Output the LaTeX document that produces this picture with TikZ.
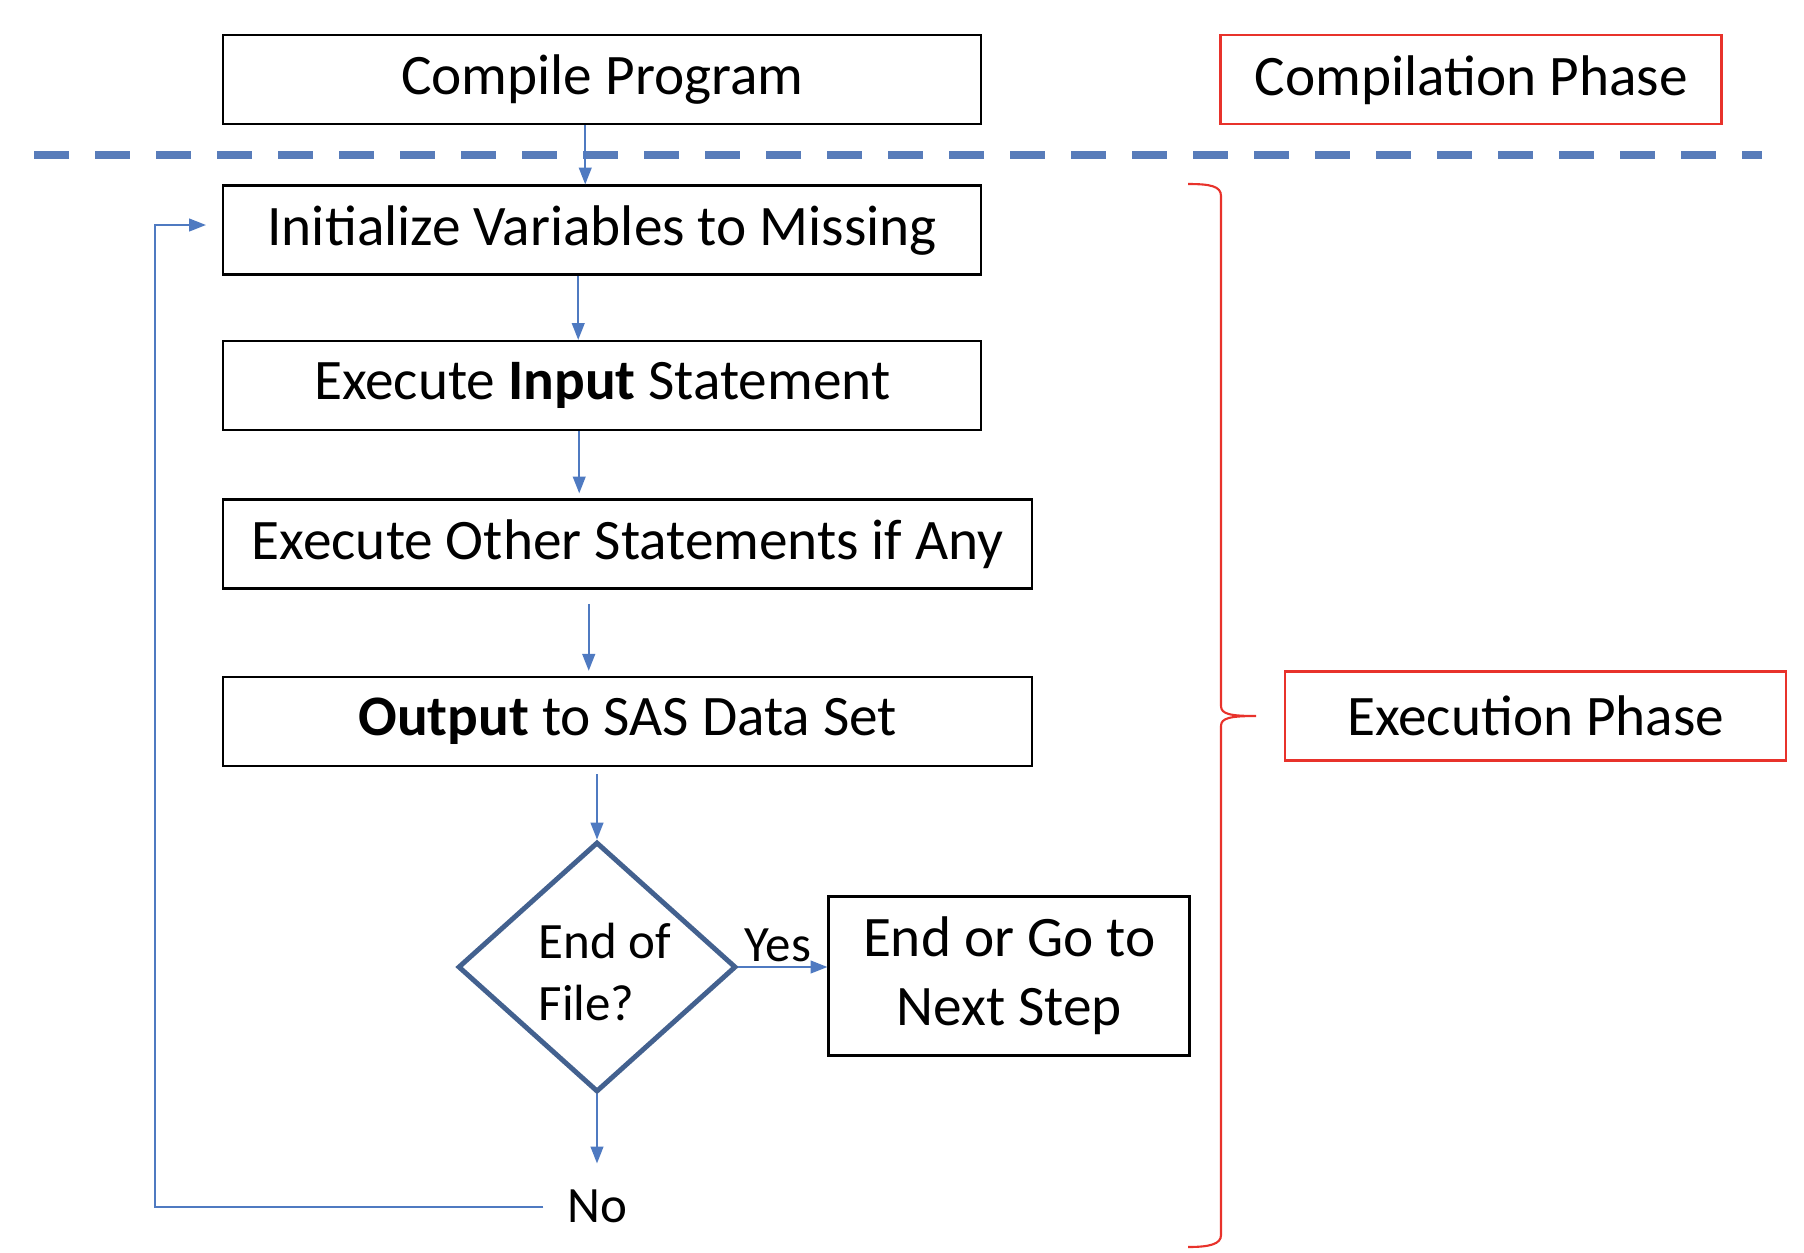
\documentclass[tikz,border=0pt]{standalone}
\usepackage{fontspec}
\setmainfont{Carlito}
\usepackage{tikz}
\usetikzlibrary{shapes.geometric, arrows.meta, calc, positioning}
\definecolor{linkblue}{RGB}{79,122,193}
\definecolor{sepblue}{RGB}{88,124,186}
\definecolor{diamblue}{RGB}{67,97,143}
\definecolor{phasered}{RGB}{232,50,43}
\tikzstyle{block} = [rectangle, line width=0.7pt, minimum width=7.58cm, minimum height=0.89cm, inner sep=0pt, text centered, draw=black]
\tikzstyle{phase} = [rectangle, line width=0.7pt, minimum width=5.01cm, minimum height=0.89cm, inner sep=0pt, text centered, draw=phasered]
\tikzstyle{decision} = [diamond, line width=1.4pt, minimum width=2.78cm, minimum height=2.50cm, inner sep=0pt, draw=diamblue]
\tikzstyle{txt} = [inner sep=0pt, font=\fontsize{14.5}{17.6}\selectfont]
\tikzstyle{arrow} = [line width=0.6pt, linkblue, -{Triangle[width=3.6pt,length=4.8pt]}]
\tikzstyle{sepline} = [line width=2.1pt, sepblue, dash pattern=on 0.35cm off 0.26cm]
\tikzstyle{bracket} = [line width=0.6pt, phasered]

\begin{document}
\begin{tikzpicture}[node distance = 10mm, font=\fontsize{16.3}{19.6}\selectfont]
	\useasboundingbox (0,0) rectangle (18.04,-12.52);
	\node (Compile) [block, anchor=north west] at (2.22,-0.34) {Compile Program};
	\node (CompPhase) [phase, right = 2.37 of Compile] {Compilation Phase};
	\node (Init) [block, below = 0.59 of Compile.south west, anchor=north west] {Initialize Variables to Missing};
	\node (Input) [block, below = 0.64 of Init.south west, anchor=north west] {Execute \textbf{Input} Statement};
	\node (Other) [block, minimum width=8.09cm, below = 0.67 of Input.south west, anchor=north west] {Execute Other Statements if Any};
	\node (Output) [block, minimum width=8.09cm, below = 0.86 of Other.south west, anchor=north west] {\textbf{Output} to SAS Data Set};
	\node (Decision) [decision, label={[txt, align=left, xshift=0.08cm, yshift=-0.05cm]center:End of\\File?}] at (5.97,-9.67) {};
	\node (Next) [block, minimum width=3.61cm, minimum height=1.59cm, align=center, right = 0.89 of Decision.east, anchor=west, yshift=-0.09cm] {End or Go to\\Next Step};
	\node (Yes) [txt] at (7.78,-9.45) {Yes};
	\node (No) [txt, below = 0.95 of Decision.south] {No};
	\coordinate (LoopCorner) at (1.55,-2.25);
	\coordinate (BraceTop) at (11.88,-1.84);
	\coordinate (BraceTip) at (12.56,-7.16);
	\coordinate (BraceBottom) at (11.88,-12.47);
	\node (ExecPhase) [phase, right = 0.28 of BraceTip] {Execution Phase};
	% phase separator
	\draw [sepline] (0.34,-1.55) -- (17.62,-1.55);
	% brace over the execution steps
	\draw [bracket] (BraceTop) .. controls (12.10,-1.84) and (12.21,-1.86) .. (12.21,-1.96)
		-- (12.21,-7.06) .. controls (12.21,-7.14) and (12.30,-7.16) .. (BraceTip)
		.. controls (12.30,-7.16) and (12.21,-7.18) .. (12.21,-7.26)
		-- (12.21,-12.35) .. controls (12.21,-12.44) and (12.10,-12.47) .. (BraceBottom);
	\draw [arrow] ([xshift=-0.17cm]Compile.south) -- ([xshift=-0.17cm]Compile.south |- Init.north);
	\draw [arrow] ([xshift=-0.24cm]Init.south) -- ([xshift=-0.24cm]Init.south |- Input.north);
	\draw [arrow] ([xshift=-0.23cm]Input.south) -- ([xshift=-0.23cm, yshift=0.05cm]Input.south |- Other.north);
	\draw [arrow, shorten <=0.14cm] ([xshift=-0.39cm]Other.south) -- ([xshift=-0.39cm, yshift=0.05cm]Other.south |- Output.north);
	\draw [arrow, shorten <=0.07cm] (Output.south -| Decision.north) -- (Decision.north);
	\draw [arrow] (Decision.east) -- (Decision.east -| Next.west);
	\draw [arrow, shorten >=0.26cm] (Decision.south) -- (No.north);
	\draw [arrow] ([xshift=-0.23cm]No.west) -| (LoopCorner) -- ([xshift=-0.16cm]Init.west |- LoopCorner);
\end{tikzpicture}
\end{document}
